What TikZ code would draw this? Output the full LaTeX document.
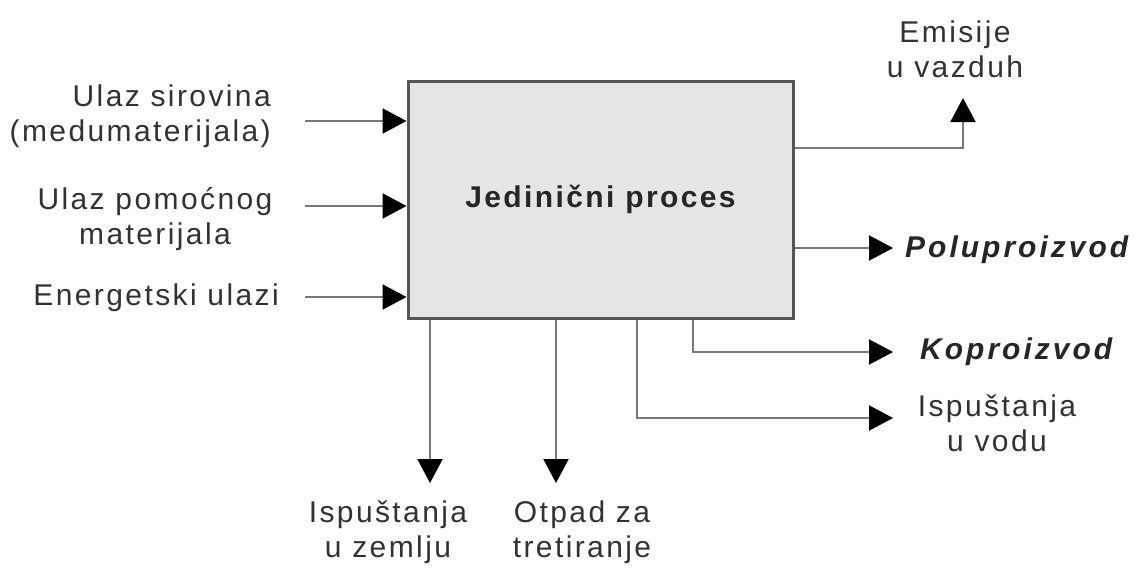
\documentclass[tikz,border=0pt]{standalone}
\usepackage{fontspec}
\setmainfont{Liberation Sans}[LetterSpace=8]
\usetikzlibrary{arrows.meta}
\definecolor{linegray}{RGB}{120,120,120}
\definecolor{boxfill}{RGB}{229,229,229}
\definecolor{boxline}{RGB}{85,85,85}
\definecolor{txt}{RGB}{50,50,50}
\begin{document}
\begin{tikzpicture}[x=1pt,y=-1pt,
  every node/.style={font=\fontsize{30}{35}\selectfont, text=txt, inner sep=0pt},
  procbox/.style={draw=boxline, line width=3pt, fill=boxfill, minimum width=385pt, minimum height=237pt, font=\fontsize{30}{35}\selectfont\bfseries, text=black!85},
  arr/.style={draw=linegray, line width=2.2pt, -{Triangle[length=24pt,width=25pt,fill=black,color=black]}},
  prod/.style={font=\fontsize{30}{35}\selectfont\bfseries\itshape\addfontfeature{LetterSpace=10}, text=black!85}]
\useasboundingbox (0,0) rectangle (1147,570);
\node[procbox] (proc) at (600.5,199.5) {Jedinični proces};
% inputs
\node[align=right, anchor=east] (lab1) at (271,116) {Ulaz sirovina\\(medumaterijala)};
\node[align=center] (lab2) at (155,219) {Ulaz pomoćnog\\materijala};
\node[anchor=east] (lab3) at (279,298) {Energetski ulazi};
\coordinate (in1) at (305,121);
\coordinate (in2) at (305,206);
\coordinate (in3) at (305,297);
\draw[arr] (in1) -- (in1 -| proc.west);
\draw[arr] (in2) -- (in2 -| proc.west);
\draw[arr] (in3) -- (in3 -| proc.west);
% outputs right
\node[align=center] (emis) at (955,49) {Emisije\\u vazduh};
\coordinate (e1) at (793,148);
\coordinate (e2) at (963,98);
\draw[arr] (e1 -| proc.east) -| (e2);
\node[prod, anchor=west] (polu) at (905,250) {Poluproizvod};
\coordinate (p2) at (893,248);
\draw[arr] (p2 -| proc.east) -- (p2);
\node[prod, anchor=west] (kopro) at (920,352) {Koproizvod};
\coordinate (k1) at (693,318);
\coordinate (k2) at (893,352);
\draw[arr] (k1 |- proc.south) |- (k2);
\node[align=center] (vodu) at (997,423) {Ispuštanja\\u vodu};
\coordinate (v1) at (637,318);
\coordinate (v2) at (893,418);
\draw[arr] (v1 |- proc.south) |- (v2);
% outputs down
\coordinate (d1) at (430,483);
\coordinate (d2) at (556,483);
\draw[arr] (d1 |- proc.south) -- (d1);
\draw[arr] (d2 |- proc.south) -- (d2);
\node[align=center] (zem) at (388,532) {Ispuštanja\\u zemlju};
\node[align=center] (otp) at (582,532) {Otpad za\\tretiranje};
\end{tikzpicture}
\end{document}
